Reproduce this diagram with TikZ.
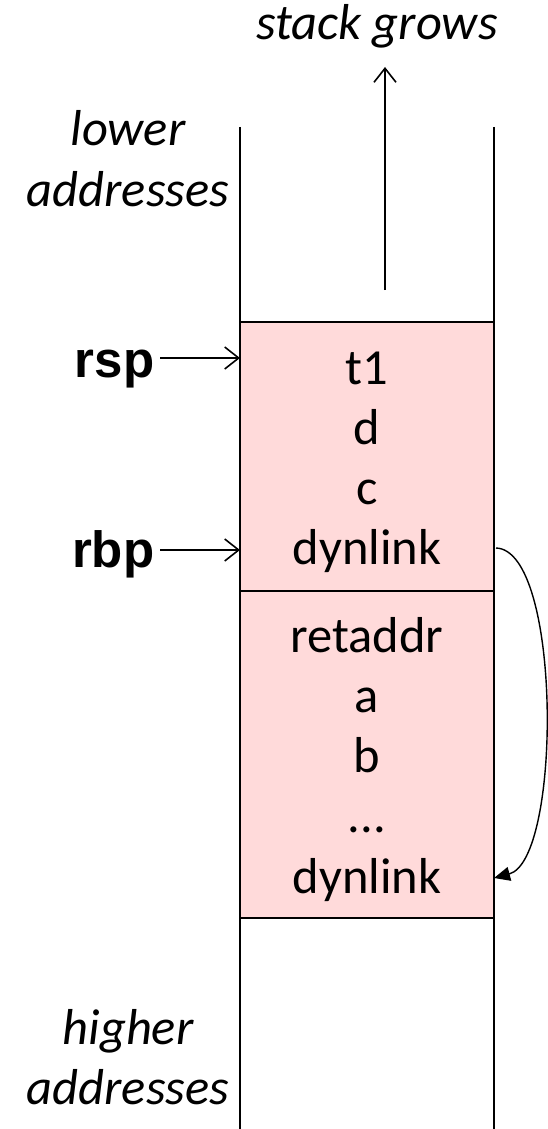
\documentclass[tikz,border=0pt]{standalone}
\usepackage{fontspec}
\setmainfont{Carlito}
\newfontfamily\arialfont{Liberation Sans}
\usetikzlibrary{arrows.meta}
\definecolor{boxpink}{RGB}{255,218,218}
\begin{document}
\begin{tikzpicture}[x=1pt,y=-1pt,
  line width=1.6pt,
  celltext/.style={font=\fontsize{50.5}{54}\selectfont, anchor=base},
  sidetext/.style={font=\fontsize{50.5}{54}\selectfont\itshape, anchor=base},
  regtext/.style={font=\fontsize{51}{54}\selectfont\arialfont\bfseries, anchor=base east, inner sep=0pt},
  openarrow/.style={-{Straight Barb[length=14pt,width=22pt,line width=1.6pt]}},
  filledarrow/.style={-{Triangle[length=16pt,width=14pt]}}
]
\useasboundingbox (0,0) rectangle (547,1129);
% boxes
\draw[fill=boxpink] (240,322) rectangle (494,591);
\draw[fill=boxpink] (240,591) rectangle (494,918);
% vertical lines
\draw (240,127) -- (240,1129);
\draw (494,127) -- (494,1129);
% top label and arrow
\node[sidetext] (grows) at (377,40) {stack grows};
\coordinate (growtail) at (385,290);
\coordinate (growhead) at (385,67);
\draw[openarrow] (growtail) -- (growhead);
% side labels
\node[sidetext] (lower) at (128,146) {lower};
\node[sidetext] (laddr) at (128,206) {addresses};
\node[sidetext] (higher) at (128,1044) {higher};
\node[sidetext] (haddr) at (128,1104) {addresses};
% cell texts
\node[celltext] (t1) at (367,384) {t1};
\node[celltext] (d) at (367,444) {d};
\node[celltext] (c) at (367,504) {c};
\node[celltext] (dyn1) at (367,564) {dynlink};
\node[celltext] (ret) at (367,652) {retaddr};
\node[celltext] (a) at (367,712) {a};
\node[celltext] (b) at (367,772) {b};
\node[celltext] (dots) at (367,832) {...};
\node[celltext] (dyn2) at (367,893) {dynlink};
% registers
\node[regtext] (rsp) at (155,377) {rsp};
\node[regtext] (rbp) at (155,567) {rbp};
\coordinate (rsptip) at (240,358);
\coordinate (rbptip) at (240,550);
\draw[openarrow] (rsp.east |- rsptip) ++(5,0) -- (rsptip);
\draw[openarrow] (rbp.east |- rbptip) ++(5,0) -- (rbptip);
% dynamic link curve
\coordinate (dlstart) at (496,548);
\coordinate (dlend) at (494,878);
\draw[filledarrow, line width=1.4pt] (dlstart) .. controls (562,550) and (562,860) .. (dlend);
\end{tikzpicture}
\end{document}
